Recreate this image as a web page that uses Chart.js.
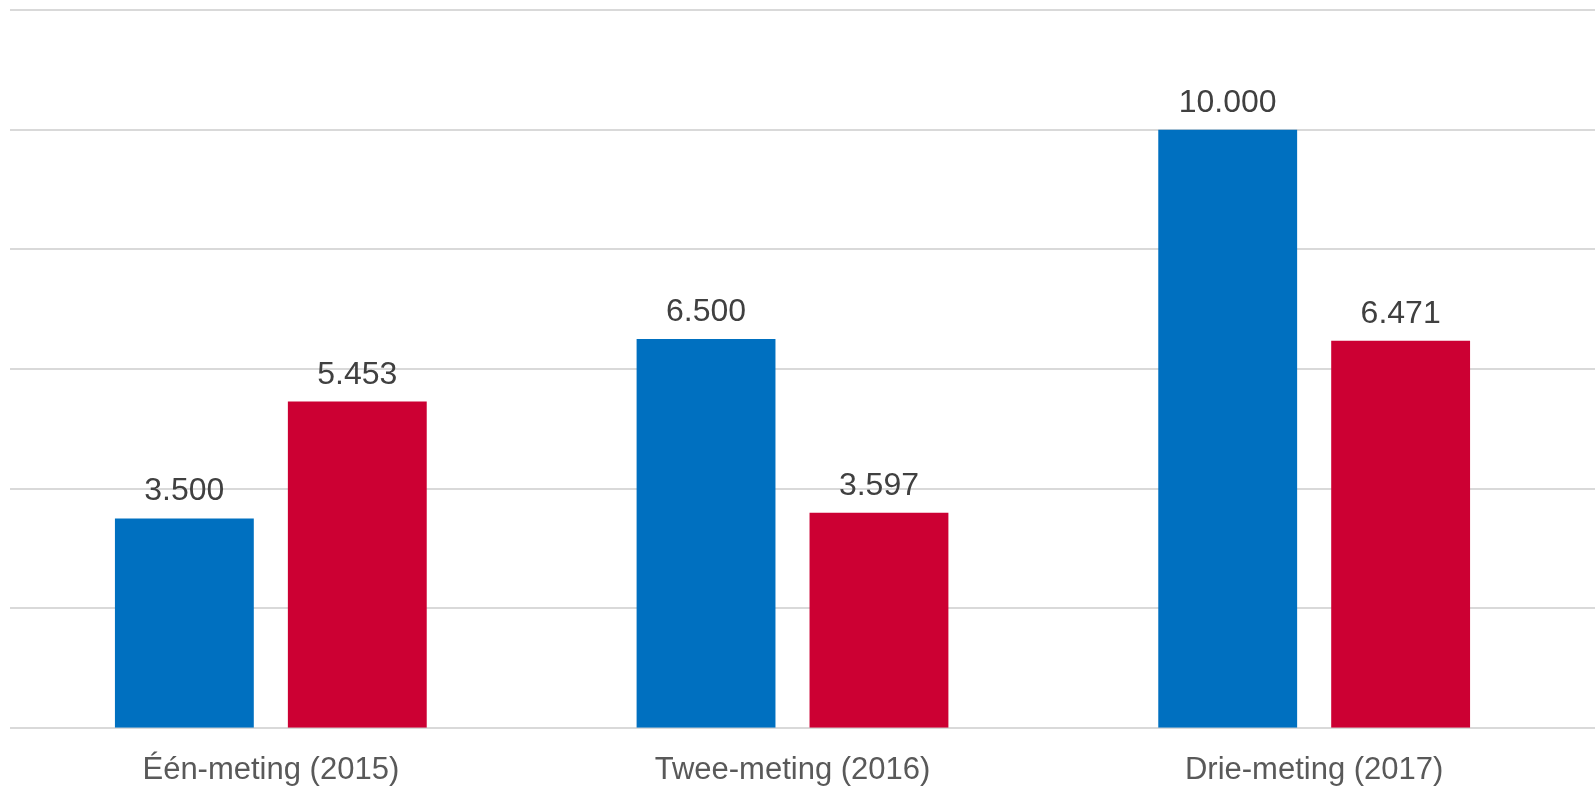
<!DOCTYPE html>
<html lang="nl">
<head>
<meta charset="utf-8">
<title>Metingen</title>
<script src="https://cdn.jsdelivr.net/npm/chart.js@4/dist/chart.umd.min.js"></script>
<style>
  html, body { margin: 0; padding: 0; background: #fff; overflow: hidden; }
  #wrap { width: 1595px; height: 801px; }
</style>
</head>
<body>
<div id="wrap"><canvas id="grafiek"></canvas></div>
<script>
// Gegevens uit de grafiek
var categorieen = ['Één-meting (2015)', 'Twee-meting (2016)', 'Drie-meting (2017)'];
var reeksBlauw = [3500, 6500, 10000];
var reeksRood = [5453, 3597, 6471];

// 3500 -> "3.500"
function formatGetal(n) {
    return String(Math.round(n)).replace(/\B(?=(\d{3})+(?!\d))/g, '.');
}

// rasterlijnen over de volle breedte (zoals in het origineel)
var rasterLijnen = {
    id: 'rasterLijnen',
    beforeDatasetsDraw: function(chart) {
        var ctx = chart.ctx;
        var y = chart.scales.y;
        ctx.save();
        ctx.strokeStyle = '#d9d9d9';
        ctx.lineWidth = 2;
        y.ticks.forEach(function(t) {
            var py = Math.round(y.getPixelForValue(t.value));
            ctx.beginPath();
            ctx.moveTo(chart.chartArea.left, py);
            ctx.lineTo(chart.width, py);
            ctx.stroke();
        });
        ctx.restore();
    }
};

// labels boven de staven
var waardeLabels = {
    id: 'waardeLabels',
    afterDatasetsDraw: function(chart) {
        var ctx = chart.ctx;
        ctx.save();
        ctx.font = '32px "Liberation Sans", Arial, sans-serif';
        ctx.fillStyle = '#404040';
        ctx.textAlign = 'center';
        ctx.textBaseline = 'alphabetic';
        chart.data.datasets.forEach(function(ds, i) {
            chart.getDatasetMeta(i).data.forEach(function(bar, j) {
                ctx.fillText(formatGetal(ds.data[j]), bar.x, bar.y - 18);
            });
        });
        ctx.restore();
    }
};

new Chart(document.getElementById('grafiek'), {
    type: 'bar',
    data: {
        labels: categorieen,
        datasets: [{
            label: 'Reeks 1',
            data: reeksBlauw,
            backgroundColor: '#0070C0'
        }, {
            label: 'Reeks 2',
            data: reeksRood,
            backgroundColor: '#CC0033'
        }]
    },
    options: {
        responsive: true,
        maintainAspectRatio: false,
        animation: false,
        categoryPercentage: 0.663,
        barPercentage: 0.803,
        layout: {
            padding: { top: 10, left: 10, right: 20, bottom: -12 }
        },
        plugins: {
            legend: { display: false },
            tooltip: { enabled: false }
        },
        scales: {
            x: {
                grid: { display: false, drawTicks: false },
                border: { display: false },
                ticks: {
                    color: '#595959',
                    padding: 24,
                    font: { size: 31, family: '"Liberation Sans", Arial, sans-serif' }
                }
            },
            y: {
                min: 0,
                max: 12000,
                ticks: { display: false, stepSize: 2000 },
                border: { display: false },
                grid: { display: false, drawTicks: false }
            }
        }
    },
    plugins: [rasterLijnen, waardeLabels]
});
</script>
</body>
</html>
